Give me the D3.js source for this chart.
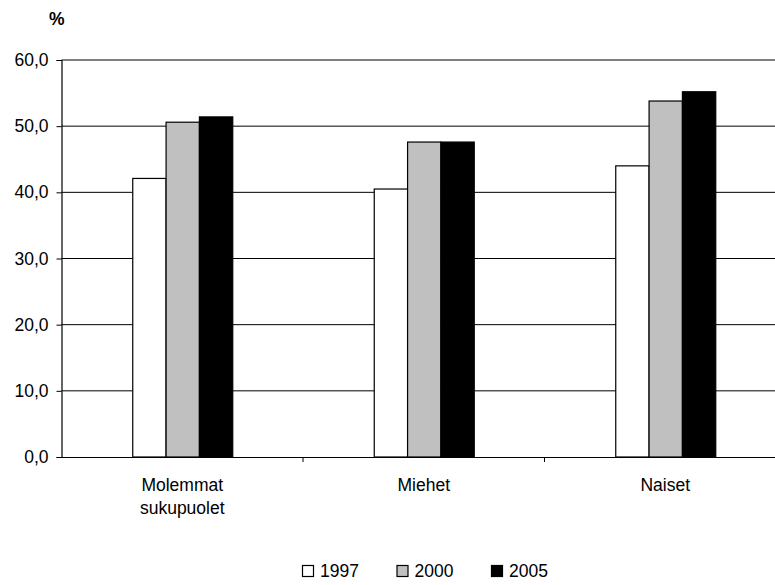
<!DOCTYPE html>
<html>
<head>
<meta charset="utf-8">
<script src="https://cdn.jsdelivr.net/npm/d3@7"></script>
<style>
  html, body { margin: 0; padding: 0; background: #fff; }
  svg { display: block; font-family: "Liberation Sans", Arial, sans-serif; }
</style>
</head>
<body>
<svg id="chart" width="775" height="585"></svg>
<script>
// Share (%) by group and survey year
const categories = [["Molemmat", "sukupuolet"], ["Miehet"], ["Naiset"]];
const years = ["1997", "2000", "2005"];
const values1997 = [42.1, 40.5, 44.0];
const values2000 = [50.6, 47.6, 53.8];
const values2005 = [51.4, 47.6, 55.2];
const yTicks = [0, 10, 20, 30, 40, 50, 60];
const yTickLabels = ["0,0", "10,0", "20,0", "30,0", "40,0", "50,0", "60,0"];

const series = [values1997, values2000, values2005];
const fills = ["#ffffff", "#c0c0c0", "#000000"];

const svg = d3.select("#chart");
const plot = { left: 61.5, top: 60, bottom: 457, band: 241.5 };
const fontSize = 17.5;

const catKeys = categories.map(c => c.join(" "));
const x0 = d3.scaleBand().domain(catKeys)
  .range([plot.left, plot.left + plot.band * categories.length])
  .paddingInner(0).paddingOuter(0);
const groupWidth = 100;
const x1 = d3.scaleBand().domain(years).range([0, groupWidth]);
const y = d3.scaleLinear().domain([0, 60]).range([plot.bottom, plot.top]);

svg.append("rect").attr("width", 775).attr("height", 585).attr("fill", "#fff");

// horizontal gridlines
svg.append("g").selectAll("line")
  .data(yTicks.filter(t => t > 0))
  .join("line")
  .attr("x1", plot.left).attr("x2", 800)
  .attr("y1", d => y(d)).attr("y2", d => y(d))
  .attr("stroke", "#000").attr("stroke-width", 1);

// bars
const rows = categories.map((c, i) => ({ key: catKeys[i], vals: series.map(s => s[i]) }));
const groups = svg.append("g").selectAll("g")
  .data(rows).join("g")
  .attr("transform", d => `translate(${x0(d.key) + x0.bandwidth() / 2 - groupWidth / 2},0)`);
groups.selectAll("rect")
  .data(d => d.vals.map((v, j) => ({ year: years[j], v, j })))
  .join("rect")
  .attr("x", d => x1(d.year) + 0.5)
  .attr("y", d => y(d.v))
  .attr("width", x1.bandwidth())
  .attr("height", d => y(0) - y(d.v))
  .attr("fill", d => fills[d.j])
  .attr("stroke", "#000").attr("stroke-width", 1.2);

// y axis
const yAxis = d3.axisLeft(y).tickValues(yTicks)
  .tickFormat((d, i) => yTickLabels[i]).tickSize(5).tickPadding(8);
const gy = svg.append("g").attr("transform", `translate(${plot.left},0)`).call(yAxis);
gy.select(".domain").attr("stroke", "#000").attr("stroke-width", 1.2);
gy.selectAll(".tick line").attr("stroke", "#000");
gy.selectAll(".tick text").attr("font-size", fontSize).attr("fill", "#000")
  .attr("font-family", "Liberation Sans, Arial, sans-serif");

// x axis baseline with separators between categories
const xAxis = d3.axisBottom(x0).tickValues([]).tickSizeOuter(0);
const gx = svg.append("g").attr("transform", `translate(0,${y(0)})`).call(xAxis);
gx.select(".domain").attr("stroke", "#000").attr("stroke-width", 1.2);
gx.selectAll(".sep").data(catKeys.slice(1)).join("line")
  .attr("class", "sep")
  .attr("x1", d => x0(d)).attr("x2", d => x0(d))
  .attr("y1", 0).attr("y2", 5).attr("stroke", "#000");

// category labels
const labels = svg.append("g").selectAll("text")
  .data(categories.map((c, i) => ({ lines: c, key: catKeys[i] })))
  .join("text")
  .attr("text-anchor", "middle")
  .attr("font-size", fontSize)
  .attr("fill", "#000")
  .attr("x", d => x0(d.key) + x0.bandwidth() / 2)
  .attr("y", 491);
labels.selectAll("tspan").data(d => d.lines).join("tspan")
  .attr("x", function () { return d3.select(this.parentNode).attr("x"); })
  .attr("dy", (d, i) => i === 0 ? 0 : 23)
  .text(d => d);

// unit label
svg.append("text").attr("x", 49).attr("y", 25)
  .attr("font-size", fontSize).attr("font-weight", "bold").text("%");

// legend
const legend = svg.append("g").attr("transform", "translate(302.5,565.5)");
const items = legend.selectAll("g").data(years).join("g")
  .attr("transform", (d, i) => `translate(${i * 94.5},0)`);
items.append("rect").attr("width", 11).attr("height", 11)
  .attr("fill", (d, i) => fills[i]).attr("stroke", "#000").attr("stroke-width", 1.2);
items.append("text").attr("x", 17.5).attr("y", 11.5)
  .attr("font-size", fontSize).attr("fill", "#000").text(d => d);
</script>
</body>
</html>
